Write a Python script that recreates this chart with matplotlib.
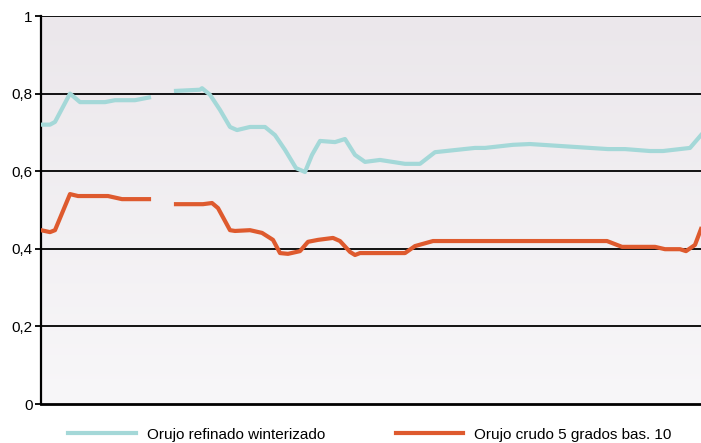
import numpy as np
import matplotlib.pyplot as plt
from matplotlib.colors import LinearSegmentedColormap

plt.rcParams['font.family'] = ['Liberation Sans', 'DejaVu Sans']

# series; None marks the gap in both series
x_refinado = [0, 0.9, 1.4, 2.9, 3.9, 6.4, 7.4, 9.4, 10.8, None,
              13.5, 15.9, 16.1, 16.9, 17.9, 18.9, 19.6, 20.9, 22.4, 23.4,
              24.4, 25.5, 26.4, 27.1, 27.9, 29.4, 30.4, 31.4, 32.4, 33.9,
              36.4, 37.9, 39.4, 43.4, 44.4, 47.2, 48.9, 56.7, 58.4, 60.9,
              62.2, 64.9, 66.0]
y_refinado = [0.72, 0.72, 0.727, 0.80, 0.778, 0.778, 0.783, 0.783, 0.79, None,
              0.807, 0.81, 0.814, 0.797, 0.758, 0.714, 0.706, 0.714, 0.714, 0.693,
              0.655, 0.608, 0.598, 0.642, 0.678, 0.675, 0.683, 0.642, 0.624, 0.629,
              0.619, 0.619, 0.649, 0.66, 0.66, 0.668, 0.670, 0.657, 0.657, 0.652,
              0.652, 0.66, 0.693]

x_crudo = [0, 0.9, 1.4, 2.9, 3.7, 6.7, 8.1, 10.8, None,
           13.5, 16.2, 17.1, 17.7, 18.9, 19.4, 20.9, 22.1, 23.2, 23.9,
           24.7, 25.9, 26.7, 27.7, 29.2, 29.9, 30.9, 31.4, 31.9, 36.4,
           37.4, 39.2, 56.6, 58.1, 61.4, 62.4, 63.9, 64.5, 65.4, 66.0]
y_crudo = [0.448, 0.443, 0.448, 0.541, 0.536, 0.536, 0.528, 0.528, None,
           0.515, 0.515, 0.518, 0.505, 0.448, 0.446, 0.448, 0.441, 0.423, 0.389,
           0.387, 0.394, 0.418, 0.423, 0.428, 0.420, 0.392, 0.384, 0.389, 0.389,
           0.407, 0.420, 0.420, 0.405, 0.405, 0.399, 0.399, 0.394, 0.41, 0.451]

labels = ['Orujo refinado winterizado', 'Orujo crudo 5 grados bas. 10']
colors = ['#a4d8d8', '#de5a2e']
yticks = [0, 0.2, 0.4, 0.6, 0.8, 1.0]
ytick_labels = ['0', '0,2', '0,4', '0,6', '0,8', '1']


def to_arr(v):
    return np.array([np.nan if a is None else a for a in v], dtype=float)


fig = plt.figure(figsize=(7.01, 4.43), dpi=100)
ax = fig.add_axes([41 / 701, 39 / 443, 660 / 701, 388 / 443])

# soft vertical gradient behind the plot
grad = np.linspace(0, 1, 256).reshape(-1, 1)
bg = LinearSegmentedColormap.from_list('bg', ['#f8f7f9', '#ebe7eb'])
ax.imshow(grad, extent=[0, 66, 0, 1], aspect='auto', origin='lower', cmap=bg, zorder=0)

for yv in yticks[1:]:
    ax.axhline(yv, color='black', lw=1.3, zorder=1)

l1, = ax.plot(to_arr(x_refinado), to_arr(y_refinado), color=colors[0], lw=3,
              zorder=3, solid_joinstyle='round')
l2, = ax.plot(to_arr(x_crudo), to_arr(y_crudo), color=colors[1], lw=3,
              zorder=3, solid_joinstyle='round')

ax.set_xlim(0, 66)
ax.set_ylim(0, 1)
ax.set_xticks([])
ax.set_yticks(yticks)
ax.set_yticklabels(ytick_labels, fontsize=11)
ax.tick_params(axis='y', length=4, width=1.3, pad=2)
for s in ['top', 'right']:
    ax.spines[s].set_visible(False)
ax.spines['left'].set_linewidth(1.6)
ax.spines['bottom'].set_linewidth(2)

fig.legend([l1, l2], labels, loc='center', bbox_to_anchor=(0.528, 8.5 / 443),
           ncol=2, frameon=False, fontsize=11, handlelength=4.4,
           columnspacing=4.6, handletextpad=0.75, borderpad=0, borderaxespad=0)

fig.savefig('out.png', dpi=100)
